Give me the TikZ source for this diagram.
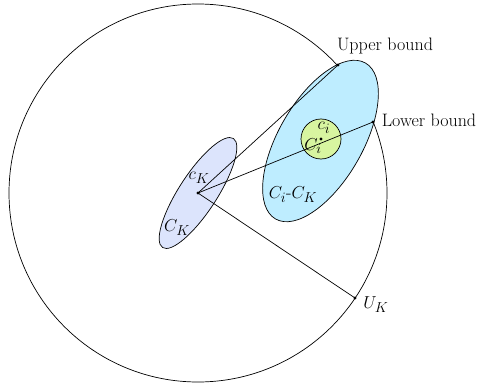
\documentclass[tikz,border=0pt]{standalone}
\usetikzlibrary{shapes.geometric}
\DeclareMathSizes{18}{18}{14}{10}
\definecolor{ckfill}{HTML}{DCE4FC}
\definecolor{cifill}{HTML}{BEEDFF}
\definecolor{grfill}{HTML}{D8F5A0}
\tikzset{
  region/.style={ellipse, draw, line width=0.7pt, inner sep=0pt},
  lbl/.style={inner sep=0pt, font=\fontsize{18}{21}\selectfont},
  pt/.style={circle, fill, inner sep=0pt, minimum size=3.4pt},
  conn/.style={line width=0.7pt}
}
\begin{document}
\begin{tikzpicture}[x=1pt,y=-1pt]
\useasboundingbox (0,0) rectangle (481,385);
% big circle U_K
\node[circle, draw, line width=0.7pt, minimum size=378pt, inner sep=0pt] (big) at (198,193) {};
% C_K ellipse
\node[region, fill=ckfill, minimum width=130pt, minimum height=38pt, rotate=57] (CK) at (198,193) {};
% C_i - C_K ellipse
\node[region, fill=cifill, minimum width=180pt, minimum height=84pt, rotate=60] (CiCK) at (320.5,141) {};
% C_i circle
\node[circle, draw, line width=0.7pt, fill=grfill, minimum size=40pt, inner sep=0pt] (Ci) at (321,139) {};
% points
\node[pt] (cK) at (198,193) {};
\node[pt] (ci) at (321,139) {};
\node[pt] (ub) at (338,65) {};
\node[pt] (lb) at (373,122) {};
\node[pt] (uk) at (355,298) {};
% connectors
\draw[conn] (cK.center) -- (ub.center);
\draw[conn] (cK.center) -- (lb.center);
\draw[conn] (cK.center) -- (uk.center);
% labels
\node[lbl] (tub) at (385,46) {Upper bound};
\node[lbl] (tlb) at (429,120) {Lower bound};
\node[lbl] (tuk) at (376,305) {$U_K$};
\node[lbl] (tck) at (199,178) {$c_K$};
\node[lbl] (tCK) at (177,228) {$C_K$};
\node[lbl] (tCiCK) at (293,195) {$C_i$-$C_K$};
\node[lbl] (tci) at (324,128) {$c_i$};
\node[lbl] (tCi) at (313,146) {$C_i$};
\end{tikzpicture}
\end{document}
